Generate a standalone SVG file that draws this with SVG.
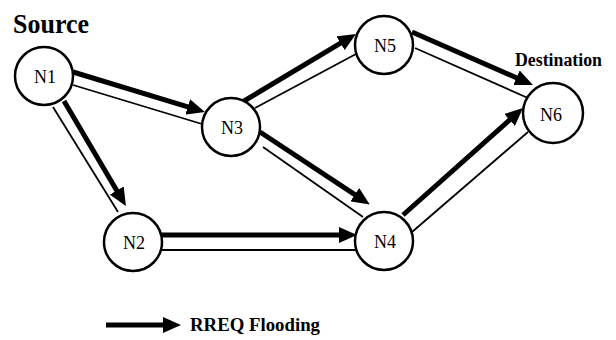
<svg xmlns="http://www.w3.org/2000/svg" width="616" height="340" viewBox="0 0 616 340">
<style>
.node circle{fill:#fff;stroke:#000;stroke-width:2.5}
.node text{font-family:"Liberation Serif","Times New Roman",serif;font-size:18px;text-anchor:middle;fill:#000}
.thick{stroke:#000;stroke-width:5;fill:none;marker-end:url(#ah)}
.thin{stroke:#000;stroke-width:1.8;fill:none}
.lbl{font-family:"Liberation Serif","Times New Roman",serif;font-weight:bold;fill:#000}
</style>
<defs>
<marker id="ah" markerUnits="userSpaceOnUse" markerWidth="18" markerHeight="16" viewBox="0 0 18 16" refX="1" refY="8" orient="auto">
<path d="M0,0 L18,8 L0,16 z" fill="#000"/>
</marker>
</defs>
<rect width="616" height="340" fill="#fff"/>
<g id="connectors">
<line class="thick" x1="73" y1="72" x2="188.7" y2="107.1"/>
<line class="thin" x1="73" y1="85" x2="202" y2="124"/>
<line class="thick" x1="64" y1="101" x2="117.3" y2="191.4"/>
<line class="thin" x1="53" y1="107" x2="118" y2="212"/>
<line class="thick" x1="161" y1="235" x2="340" y2="235"/>
<line class="thin" x1="161" y1="250" x2="356" y2="250"/>
<line class="thick" x1="244" y1="101" x2="341.4" y2="42.7"/>
<line class="thin" x1="255" y1="108" x2="356" y2="54"/>
<line class="thick" x1="260" y1="132" x2="355.6" y2="195.2"/>
<line class="thin" x1="263" y1="147" x2="363" y2="217"/>
<line class="thick" x1="412" y1="32" x2="517.4" y2="78.2"/>
<line class="thin" x1="415" y1="48" x2="528" y2="98"/>
<line class="thick" x1="403" y1="215" x2="510.3" y2="119.3"/>
<line class="thin" x1="412" y1="232" x2="528" y2="132"/>
<line class="thick" x1="106" y1="325" x2="164" y2="325"/>
</g>
<g id="N1" class="node"><circle cx="44" cy="76" r="29"/><text x="45" y="82.5">N1</text></g>
<g id="N2" class="node"><circle cx="133" cy="242" r="29"/><text x="134" y="248.5">N2</text></g>
<g id="N3" class="node"><circle cx="231" cy="127" r="29"/><text x="232" y="133.5">N3</text></g>
<g id="N4" class="node"><circle cx="384" cy="241" r="29"/><text x="385" y="247.5">N4</text></g>
<g id="N5" class="node"><circle cx="384" cy="45" r="29"/><text x="385" y="51.5">N5</text></g>
<g id="N6" class="node"><circle cx="553" cy="113" r="30"/><text x="551" y="121">N6</text></g>
<text class="lbl" x="13" y="33" font-size="27" textLength="76" lengthAdjust="spacingAndGlyphs">Source</text>
<text class="lbl" x="515" y="66" font-size="18" textLength="87" lengthAdjust="spacingAndGlyphs">Destination</text>
<text class="lbl" x="190" y="331" font-size="18" textLength="130" lengthAdjust="spacingAndGlyphs">RREQ Flooding</text>
</svg>
